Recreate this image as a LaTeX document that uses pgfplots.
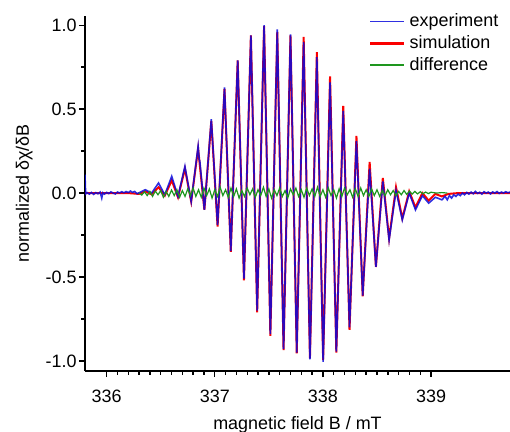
\documentclass[border=0pt]{standalone}
\usepackage{fontspec}
\setmainfont{Liberation Sans}
\usepackage{pgfplots}
\pgfplotsset{compat=1.18}
\definecolor{expblue}{RGB}{10,10,220}
\definecolor{simred}{RGB}{250,0,0}
\definecolor{diffgreen}{RGB}{30,150,30}

\begin{document}
\fontsize{9}{11}\selectfont
\begin{tikzpicture}
\begin{axis}[at={(0,0)}, anchor=south west, scale only axis,
  width=212.5bp, height=177.5bp,
  xmin=335.8, xmax=339.73, ymin=-1.06, ymax=1.055,
  axis x line*=bottom, axis y line*=left,
  axis line style={line width=0.8pt},
  tick align=outside, major tick length=3bp, minor tick length=1.8bp,
  every tick/.style={black, line width=0.7pt},
  xtick={336,337,338,339}, xticklabels={336,337,338,339}, minor x tick num=9,
  ytick={-1,-0.5,0,0.5,1}, yticklabels={-1.0,-0.5,0.0,0.5,1.0}, minor y tick num=1,
  tick label style={font=\fontsize{9}{11}\selectfont},
  xticklabel style={yshift=-3.5bp},
  yticklabel style={xshift=2bp},
  xlabel={magnetic field B / mT}, ylabel={normalized δχ/δB},
  label style={font=\fontsize{9}{11}\selectfont},
  xlabel style={at={(axis description cs:0.5,-0.152)}, anchor=center},
  ylabel style={at={(axis description cs:-0.143,0.5)}, anchor=center},
  legend style={at={(axis description cs:0.997,1.03)}, anchor=north east,
    draw=none, fill=none, font=\fontsize{9}{11}\selectfont, row sep=-1pt},
  legend cell align=left,
  legend image code/.code={\draw[#1] (0bp,0bp) -- (17bp,0bp);}]

\addlegendimage{expblue, line width=0.7pt, opacity=0.85}
\addlegendentry{experiment}
\addlegendimage{simred, line width=1.3pt}
\addlegendentry{simulation}
\addlegendimage{diffgreen, line width=0.7pt}
\addlegendentry{difference}

% simulation
\addplot[simred, line width=1.0pt, forget plot] coordinates {
(335.800,0) (336.200,0) (336.300,-0.005)
(336.358,0.010) (336.416,-0.008) (336.480,0.035) (336.538,-0.015)
(336.602,0.075) (336.660,-0.025) (336.724,0.145) (336.782,-0.050)
(336.846,0.265) (336.904,-0.100) (336.968,0.430) (337.026,-0.200)
(337.090,0.620) (337.148,-0.350) (337.212,0.790) (337.270,-0.520)
(337.334,0.940) (337.392,-0.710) (337.456,0.995) (337.514,-0.850)
(337.578,0.960) (337.636,-0.935) (337.700,0.940) (337.758,-0.955)
(337.822,0.930) (337.880,-0.985) (337.944,0.840) (338.002,-0.995)
(338.066,0.695) (338.124,-0.950) (338.188,0.520) (338.246,-0.815)
(338.310,0.340) (338.368,-0.615) (338.432,0.185) (338.490,-0.440)
(338.554,0.090) (338.612,-0.270) (338.676,0.035) (338.734,-0.150)
(338.798,0.010) (338.856,-0.085) (338.920,0.000) (338.978,-0.045)
(339.040,-0.005) (339.100,-0.020) (339.160,-0.005) (339.250,0) (339.730,0)};

% experiment
\addplot[expblue, line width=0.8pt, opacity=0.85, forget plot] coordinates {
(335.800,0.110) (335.806,-0.005) (335.820,0.003) (335.840,-0.006) (335.860,0.004)
(335.880,-0.008) (335.900,0.003) (335.920,-0.004) (335.940,0.006) (335.955,-0.030)
(335.965,0.002) (335.980,-0.006) (336.000,0.004) (336.020,-0.003) (336.040,0.007)
(336.060,0.000) (336.080,-0.005) (336.100,0.006) (336.120,0.001) (336.140,0.008)
(336.160,0.002) (336.180,0.009) (336.200,0.003) (336.220,0.012) (336.240,0.004)
(336.260,0.010) (336.280,-0.004) (336.300,0.002)
(336.358,0.020) (336.416,0.000) (336.480,0.060) (336.538,-0.010)
(336.602,0.100) (336.660,-0.020) (336.724,0.160) (336.782,-0.050)
(336.846,0.280) (336.856,0.200) (336.862,0.190) (336.904,-0.100)
(336.968,0.440) (337.026,-0.190)
(337.090,0.630) (337.148,-0.345) (337.212,0.790) (337.270,-0.510)
(337.334,0.940) (337.392,-0.700) (337.456,1.000) (337.514,-0.840)
(337.578,0.975) (337.636,-0.930) (337.700,0.945) (337.758,-0.950)
(337.822,0.900) (337.880,-0.990) (337.944,0.810) (338.002,-1.005)
(338.066,0.660) (338.124,-0.945) (338.188,0.490) (338.246,-0.800)
(338.310,0.310) (338.368,-0.610) (338.432,0.145) (338.490,-0.440)
(338.554,0.070) (338.612,-0.280) (338.676,0.015) (338.734,-0.160)
(338.798,0.000) (338.856,-0.100) (338.920,-0.015) (338.978,-0.060)
(339.040,-0.025) (339.100,-0.040)
(339.130,-0.020) (339.150,-0.040) (339.170,-0.015) (339.190,-0.030) (339.210,-0.010)
(339.230,-0.020) (339.250,-0.006) (339.270,-0.015) (339.290,0.000) (339.310,-0.010)
(339.330,0.004) (339.350,-0.006) (339.370,0.006) (339.390,-0.004) (339.410,0.010)
(339.430,-0.002) (339.450,0.005) (339.470,-0.006) (339.490,0.008) (339.510,0.000)
(339.530,0.006) (339.550,-0.005) (339.570,0.007) (339.590,0.000) (339.610,0.009)
(339.630,-0.002) (339.650,0.006) (339.670,0.000) (339.690,0.008) (339.710,0.002)
(339.730,0.006)};

% difference
\addplot[diffgreen, line width=0.6pt, forget plot] coordinates {
(336.300,0.000) (336.325,-0.012) (336.350,0.008) (336.375,-0.015) (336.400,0.010)
(336.425,-0.020) (336.450,0.012) (336.475,-0.010) (336.500,0.015) (336.525,-0.025)
(336.550,0.010) (336.575,-0.020) (336.600,0.018) (336.625,-0.015) (336.650,0.020)
(336.675,-0.025) (336.700,0.015) (336.725,-0.020) (336.750,0.025) (336.775,-0.015)
(336.800,0.030) (336.825,-0.020) (336.850,0.020) (336.875,-0.025) (336.900,0.030)
(336.925,-0.015) (336.950,0.025) (336.975,-0.030) (337.000,0.020) (337.025,-0.020)
(337.050,0.035) (337.075,-0.015) (337.100,0.020) (337.125,-0.025) (337.150,0.030)
(337.175,-0.020) (337.200,0.025) (337.225,-0.030) (337.250,0.015) (337.275,-0.020)
(337.300,0.030) (337.325,-0.010) (337.350,0.025) (337.375,-0.025) (337.400,0.020)
(337.425,-0.015) (337.450,0.035) (337.475,-0.020) (337.500,0.025) (337.525,-0.030)
(337.550,0.020) (337.575,-0.015) (337.600,0.030) (337.625,-0.020) (337.650,0.015)
(337.675,-0.030) (337.700,0.025) (337.725,-0.010) (337.750,0.030) (337.775,-0.020)
(337.800,0.020) (337.825,-0.025) (337.850,0.030) (337.875,-0.015) (337.900,0.025)
(337.925,-0.020) (337.950,0.035) (337.975,-0.020) (338.000,0.020) (338.025,-0.025)
(338.050,0.030) (338.075,-0.015) (338.100,0.020) (338.125,-0.030) (338.150,0.025)
(338.175,-0.020) (338.200,0.030) (338.225,-0.010) (338.250,0.020) (338.275,-0.025)
(338.300,0.025) (338.325,-0.020) (338.350,0.030) (338.375,-0.015) (338.400,0.020)
(338.425,-0.020) (338.450,0.025) (338.475,-0.015) (338.500,0.020) (338.525,-0.020)
(338.550,0.015) (338.575,-0.015) (338.600,0.020) (338.625,-0.010) (338.650,0.015)
(338.675,-0.015) (338.700,0.010) (338.725,-0.010) (338.750,0.015) (338.775,-0.008)
(338.800,0.012) (338.825,-0.006) (338.850,0.010) (338.875,-0.005) (338.900,0.008)
(338.925,-0.004) (338.950,0.006) (338.975,-0.003) (339.000,0.005) (339.050,0.000)
(339.100,0.003) (339.150,0.000)};
\end{axis}
\pgfresetboundingbox
\useasboundingbox (-42.5bp,-30.5bp) rectangle (212.5bp,185.5bp);
\end{tikzpicture}
\end{document}
